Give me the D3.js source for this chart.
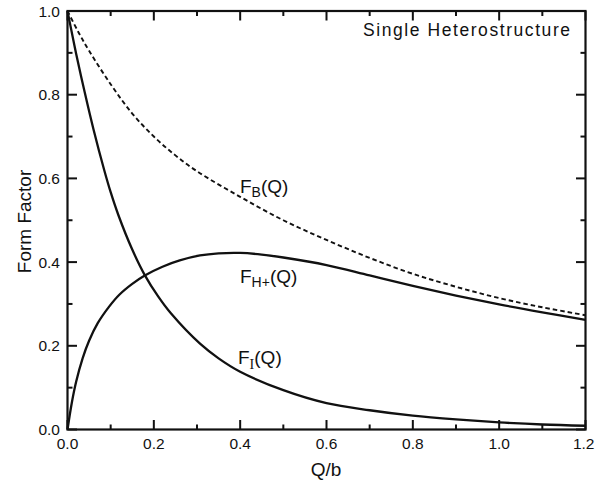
<!DOCTYPE html>
<html>
<head>
<meta charset="utf-8">
<script src="https://cdn.jsdelivr.net/npm/d3@7/dist/d3.min.js"></script>
<style>
  html, body { margin: 0; padding: 0; background: #fff; }
  svg { display: block; }
  text { font-family: "Liberation Sans", Arial, Helvetica, sans-serif; fill: #111; }
</style>
</head>
<body>
<svg id="chart" width="595" height="482"></svg>
<script>
// Form factors of a single heterostructure versus Q/b
const qB = [0, 0.025, 0.05, 0.1, 0.15, 0.2, 0.25, 0.3, 0.4, 0.5, 0.6, 0.7, 0.8, 0.9, 1.0, 1.1, 1.2];
const fB = [1.0, 0.95, 0.905, 0.825, 0.755, 0.70, 0.655, 0.617, 0.556, 0.50, 0.453, 0.41, 0.372, 0.341, 0.314, 0.292, 0.273];

const qH = [0, 0.01, 0.02, 0.035, 0.05, 0.07, 0.096, 0.12, 0.15, 0.179, 0.22, 0.26, 0.307, 0.35, 0.4, 0.45, 0.5, 0.6, 0.7, 0.8, 0.9, 1.0, 1.1, 1.2];
const fH = [0, 0.064, 0.114, 0.170, 0.212, 0.254, 0.293, 0.322, 0.348, 0.368, 0.389, 0.404, 0.416, 0.421, 0.422, 0.418, 0.411, 0.393, 0.368, 0.343, 0.320, 0.299, 0.280, 0.262];

const qI = [0, 0.005, 0.02, 0.04, 0.06, 0.085, 0.1, 0.118, 0.15, 0.179, 0.21, 0.24, 0.307, 0.35, 0.4, 0.5, 0.6, 0.7, 0.8, 0.9, 1.0, 1.1, 1.2];
const fI = [1.0, 0.974, 0.898, 0.805, 0.718, 0.620, 0.567, 0.512, 0.43, 0.369, 0.318, 0.277, 0.205, 0.17, 0.138, 0.094, 0.063, 0.046, 0.033, 0.024, 0.017, 0.012, 0.009];

const xMajorTicks = [0, 0.2, 0.4, 0.6, 0.8, 1.0, 1.2];
const xMinorTicks = [0.1, 0.3, 0.5, 0.7, 0.9, 1.1];
const yMajorTicks = [0, 0.2, 0.4, 0.6, 0.8, 1.0];
const yMinorTicks = [0.1, 0.3, 0.5, 0.7, 0.9];

const titleText = "Single Heterostructure";
const xTitle = "Q/b";
const yTitle = "Form Factor";

const margin = { left: 67.5, right: 9.5, top: 11, bottom: 52.5 };
const W = 595, H = 482;
const iw = W - margin.left - margin.right;
const ih = H - margin.top - margin.bottom;

const svg = d3.select("#chart");
const g = svg.append("g").attr("transform", `translate(${margin.left},${margin.top})`);

const x = d3.scaleLinear().domain([0, 1.2]).range([0, iw]);
const y = d3.scaleLinear().domain([0, 1.0]).range([ih, 0]);

const fmt = d3.format(".1f");
const MAJ = 9.5, MIN = 5;

// frame
g.append("rect").attr("x", 0).attr("y", 0).attr("width", iw).attr("height", ih)
  .attr("fill", "none").attr("stroke", "#111").attr("stroke-width", 2.2);

// inward ticks on all four sides
const tickW = 2;
const tg = g.append("g").attr("fill", "#111");
function xTickBars(vals, len) {
  vals.forEach(v => {
    tg.append("rect").attr("x", x(v) - tickW / 2).attr("y", ih - len).attr("width", tickW).attr("height", len);
    tg.append("rect").attr("x", x(v) - tickW / 2).attr("y", 0).attr("width", tickW).attr("height", len);
  });
}
function yTickBars(vals, len) {
  vals.forEach(v => {
    tg.append("rect").attr("x", 0).attr("y", y(v) - tickW / 2).attr("width", len).attr("height", tickW);
    tg.append("rect").attr("x", iw - len).attr("y", y(v) - tickW / 2).attr("width", len).attr("height", tickW);
  });
}
xTickBars(xMajorTicks, MAJ);
xTickBars(xMinorTicks, MIN);
yTickBars(yMajorTicks, MAJ);
yTickBars(yMinorTicks, MIN);

// tick labels
g.selectAll(".xlab").data(xMajorTicks).enter().append("text").attr("class", "xlab")
  .attr("x", d => x(d)).attr("y", ih + 19)
  .attr("text-anchor", (d, i) => i === xMajorTicks.length - 1 ? "end" : "middle")
  .attr("dx", (d, i) => i === xMajorTicks.length - 1 ? 9 : 0)
  .attr("font-size", 15.5).text(fmt);
g.selectAll(".ylab").data(yMajorTicks).enter().append("text").attr("class", "ylab")
  .attr("x", -7.5).attr("y", d => y(d)).attr("dy", "0.36em")
  .attr("text-anchor", "end")
  .attr("font-size", 15.5).text(fmt);

// curves
const line = d3.line().curve(d3.curveCatmullRom.alpha(0.5)).x(d => x(d[0])).y(d => y(d[1]));
const series = [
  { q: qB, f: fB, dash: "4.5,3", w: 1.9 },
  { q: qH, f: fH, dash: null, w: 2.3 },
  { q: qI, f: fI, dash: null, w: 2.3 }
];
series.forEach(s => {
  g.append("path")
    .datum(s.q.map((q, i) => [q, s.f[i]]))
    .attr("fill", "none")
    .attr("stroke", "#111")
    .attr("stroke-width", s.w)
    .attr("stroke-linejoin", "round")
    .attr("stroke-dasharray", s.dash)
    .attr("d", line);
});

// curve labels
function curveLabel(px, py, sub, subFont) {
  const t = svg.append("text").attr("x", px).attr("y", py).attr("font-size", 19);
  t.append("tspan").text("F");
  const st = t.append("tspan").attr("dy", 4.5).attr("font-size", 14).text(sub);
  if (subFont) st.style("font-family", subFont);
  t.append("tspan").attr("dy", -4.5).text("(Q)");
}
curveLabel(240, 192.7, "B");
curveLabel(240, 282.7, "H+");
curveLabel(238, 364, "I", '"Liberation Serif", "Times New Roman", serif');

// title inside plot
svg.append("text").attr("x", 363).attr("y", 36).attr("font-size", 17.5)
  .attr("textLength", 207).attr("lengthAdjust", "spacing").text(titleText);

// axis titles
svg.append("text").attr("x", 326).attr("y", 476).attr("text-anchor", "middle")
  .attr("font-size", 19).text(xTitle);
svg.append("text").attr("transform", "translate(31,221.5) rotate(-90)")
  .attr("text-anchor", "middle").attr("font-size", 19).text(yTitle);
</script>
</body>
</html>
